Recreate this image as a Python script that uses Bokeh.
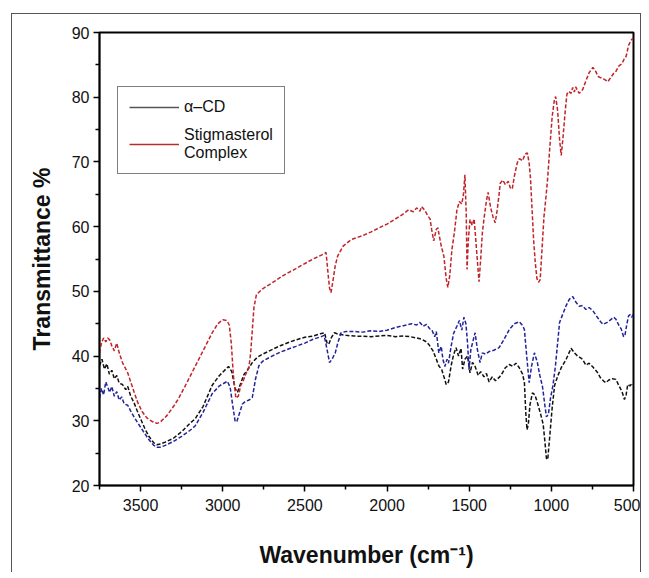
from bokeh.plotting import figure
from bokeh.models import Range1d, FixedTicker, Legend, LegendItem
from bokeh.embed import file_html
from bokeh.resources import INLINE

# ---- data ----
cd_w = [3750, 3735, 3720, 3705, 3690, 3675, 3660, 3645, 3630, 3610, 3590, 3578, 3560, 3540, 3520, 3500,
        3474, 3450, 3420, 3400, 3380, 3350, 3300, 3250, 3200, 3168, 3120, 3064, 3020, 2965, 2945, 2925,
        2910, 2895, 2870, 2850, 2820, 2790, 2757, 2700, 2650, 2600, 2555, 2500, 2450, 2400, 2380, 2365,
        2355, 2340, 2320, 2300, 2250, 2200, 2100, 2000, 1950, 1900, 1860, 1820, 1790, 1760, 1746, 1720,
        1700, 1685, 1667, 1650, 1640, 1626, 1610, 1595, 1580, 1565, 1550, 1540, 1526, 1510, 1495, 1480,
        1464, 1445, 1430, 1410, 1395, 1379, 1360, 1340, 1318, 1300, 1280, 1256, 1235, 1215, 1195, 1175,
        1164, 1155, 1148, 1140, 1130, 1115, 1100, 1085, 1065, 1050, 1040, 1030, 1022, 1010, 995, 980,
        960, 940, 910, 880, 860, 840, 810, 790, 770, 747, 720, 700, 680, 668, 650, 630, 607, 590, 570,
        555, 545, 535, 520, 510, 500]
cd_t = [38.5, 39.5, 38.0, 38.8, 37.2, 37.8, 36.5, 37.0, 35.8, 35.6, 34.8, 35.3, 33.8, 32.8, 31.5, 30.3,
        28.8, 27.6, 26.6, 26.3, 26.4, 26.7, 27.3, 28.3, 29.6, 30.3, 32.2, 35.5, 37.0, 38.4, 37.6, 35.0,
        34.4, 35.5, 37.2, 37.8, 39.0, 39.8, 40.3, 41.0, 41.6, 42.1, 42.5, 42.9, 43.1, 43.5, 43.6, 42.0,
        41.8, 42.8, 43.6, 43.4, 43.2, 43.1, 43.0, 43.2, 43.0, 43.1, 43.0, 42.8, 42.6, 42.2, 41.8, 40.8,
        39.5, 38.5, 37.9, 36.5, 35.6, 36.0, 38.5, 40.2, 41.3, 40.0, 41.2, 38.0, 39.5, 40.0, 37.4, 39.0,
        38.4, 37.0, 37.6, 36.8, 37.3, 36.0, 36.8, 36.2, 36.7, 37.3, 38.2, 38.7, 38.4, 38.9, 38.2, 37.2,
        35.9, 31.0, 28.6, 29.5, 32.5, 34.3, 34.0, 32.8, 31.0, 29.5, 27.0, 24.2, 24.0, 27.5, 32.0, 35.5,
        37.0, 38.2, 39.5, 41.2, 40.5, 40.0, 39.5, 38.6, 38.9, 38.3, 37.5, 36.6, 36.1, 35.9, 36.3, 36.5,
        36.4, 35.5, 34.5, 33.3, 34.0, 35.6, 35.4, 35.8, 35.6]

blue_w = [3750, 3738, 3725, 3712, 3700, 3688, 3675, 3660, 3645, 3630, 3615, 3600, 3578, 3560, 3540, 3520,
          3500, 3474, 3450, 3420, 3400, 3382, 3350, 3300, 3250, 3200, 3168, 3120, 3064, 3020, 2972, 2955,
          2940, 2925, 2915, 2900, 2880, 2862, 2840, 2820, 2800, 2780, 2757, 2700, 2650, 2600, 2555, 2500,
          2450, 2400, 2383, 2365, 2350, 2335, 2315, 2300, 2280, 2250, 2200, 2150, 2100, 2050, 2000, 1950,
          1900, 1850, 1820, 1800, 1780, 1760, 1740, 1728, 1710, 1700, 1685, 1670, 1660, 1648, 1635, 1626,
          1610, 1595, 1575, 1560, 1545, 1532, 1520, 1510, 1501, 1490, 1475, 1464, 1450, 1434, 1420, 1400,
          1379, 1350, 1318, 1290, 1256, 1225, 1195, 1175, 1164, 1150, 1135, 1120, 1103, 1085, 1070, 1054,
          1040, 1030, 1018, 1005, 990, 975, 960, 950, 930, 910, 890, 870, 850, 830, 810, 790, 770, 747,
          720, 700, 686, 660, 640, 620, 607, 590, 575, 560, 552, 540, 530, 520, 510, 500]
blue_t = [33.5, 35.0, 34.0, 36.0, 35.2, 34.4, 35.3, 33.8, 34.5, 33.2, 33.7, 32.6, 32.4, 31.5, 30.6, 29.8,
          29.0, 28.0, 27.1, 26.2, 25.9, 25.9, 26.2, 26.8, 27.6, 28.5, 29.2, 31.3, 34.2, 35.4, 36.1, 35.2,
          32.5, 30.0, 29.8, 31.0, 32.6, 33.0, 33.2, 33.6, 36.5, 38.5, 39.2, 40.0, 40.6, 41.1, 41.5, 42.0,
          42.6, 43.0, 43.2, 41.0, 39.0, 39.5, 40.5, 42.0, 43.6, 43.8, 43.8, 43.7, 43.9, 43.8, 44.0, 44.4,
          44.7, 45.0, 44.8, 45.2, 44.6, 44.9, 44.2, 44.1, 43.0, 43.8, 40.5, 41.5, 39.5, 38.4, 39.5, 38.9,
          41.5, 43.5, 44.6, 45.5, 44.0, 46.0, 45.0, 42.0, 37.9, 41.0, 42.5, 43.6, 41.0, 39.0, 40.5, 40.3,
          40.7, 40.9, 41.3, 42.5, 44.1, 45.0, 45.3, 44.7, 44.1, 40.0, 35.9, 38.5, 40.5, 39.0, 37.0, 35.3,
          32.5, 30.6, 31.0, 33.5, 35.5, 38.5, 42.5, 45.2, 46.5, 47.8, 48.8, 49.2, 48.3, 47.7, 47.8, 47.2,
          47.5, 47.0, 46.0, 45.3, 44.9, 45.2, 45.6, 46.0, 45.7, 44.8, 44.2, 43.0, 43.2, 45.0, 46.2, 46.4,
          46.0, 46.6]

stig_w = [3750, 3738, 3725, 3712, 3700, 3688, 3675, 3660, 3645, 3630, 3610, 3590, 3578, 3560, 3540, 3517,
          3490, 3460, 3430, 3400, 3380, 3340, 3300, 3272, 3220, 3168, 3120, 3064, 3030, 3000, 2975, 2960,
          2948, 2935, 2920, 2905, 2890, 2875, 2855, 2840, 2830, 2820, 2810, 2795, 2757, 2700, 2647, 2600,
          2555, 2500, 2450, 2400, 2371, 2360, 2350, 2341, 2330, 2315, 2300, 2267, 2218, 2150, 2096, 2050,
          2000, 1955, 1910, 1869, 1840, 1820, 1800, 1789, 1770, 1750, 1738, 1728, 1716, 1700, 1690, 1685,
          1670, 1654, 1640, 1630, 1618, 1605, 1590, 1575, 1560, 1545, 1535, 1526, 1518, 1513, 1505, 1495,
          1482, 1470, 1460, 1448, 1440, 1430, 1420, 1409, 1395, 1385, 1370, 1355, 1342, 1330, 1318, 1311,
          1295, 1280, 1262, 1250, 1238, 1225, 1207, 1195, 1175, 1160, 1146, 1135, 1127, 1118, 1108, 1098,
          1088, 1078, 1068, 1058, 1045, 1033, 1023, 1010, 995, 982, 974, 962, 950, 940, 930, 915, 905, 894,
          880, 870, 860, 852, 840, 830, 809, 790, 770, 747, 730, 715, 699, 680, 656, 640, 620, 607, 590,
          570, 555, 545, 530, 515, 500]
stig_t = [40.5, 42.0, 42.8, 42.2, 42.8, 42.5, 41.6, 40.8, 42.0, 40.5, 39.0, 38.0, 37.4, 36.0, 34.5, 32.8,
          31.4, 30.4, 29.9, 29.6, 29.8, 30.8, 32.2, 33.3, 35.8, 38.4, 40.8, 43.6, 45.0, 45.6, 45.5, 44.8,
          42.0, 37.0, 33.5, 33.8, 35.5, 36.2, 37.5, 38.4, 40.5, 44.0, 47.5, 49.5, 50.4, 51.3, 52.2, 52.9,
          53.5, 54.3, 55.0, 55.6, 56.0, 53.0, 50.5, 49.8, 51.5, 54.0, 55.5, 57.0, 58.0, 58.6, 59.2, 59.8,
          60.4, 61.1, 61.8, 62.6, 62.3, 62.9, 62.4, 63.1, 62.5, 61.6, 61.2, 59.5, 57.8, 59.6, 59.8, 59.0,
          57.0, 55.4, 52.0, 50.6, 52.5, 56.5, 59.1, 62.5, 63.9, 63.5, 65.0, 68.0, 62.0, 53.4, 58.0, 61.1,
          60.2, 61.2, 58.0, 54.0, 51.5, 55.0, 59.0, 61.4, 64.0, 65.3, 63.0, 61.5, 60.6, 62.5, 65.0, 66.7,
          67.2, 66.5, 67.0, 66.0, 65.8, 67.8, 69.9, 70.5, 70.2, 71.2, 71.4, 69.8, 67.5, 63.0, 58.0, 54.5,
          52.0, 51.4, 51.8, 56.0, 61.5, 64.5, 67.3, 72.0, 77.0, 79.5, 80.1, 78.0, 73.5, 71.0, 73.5, 78.0,
          80.5, 80.9, 80.6, 81.5, 80.8, 81.6, 81.0, 80.6, 81.2, 82.5, 83.8, 84.6, 84.0, 83.2, 83.0, 82.8,
          82.4, 83.0, 83.7, 84.0, 84.8, 85.2, 86.0, 86.3, 88.0, 88.8, 89.2]

x_ticks = [3500, 3000, 2500, 2000, 1500, 1000, 500]
x_minor = [3750, 3250, 2750, 2250, 1750, 1250, 750]
y_ticks = [20, 30, 40, 50, 60, 70, 80, 90]
y_minor = [25, 35, 45, 55, 65, 75, 85]

FONT = "Liberation Sans"
C_CD, C_BLUE, C_STIG = "#111111", "#23239a", "#c0242a"

p = figure(width=628, height=558, frame_width=534, frame_height=453,
           min_border_left=87, min_border_top=18, min_border_right=7, min_border_bottom=87,
           x_range=Range1d(3750, 500), y_range=Range1d(20, 90),
           output_backend="svg", toolbar_location=None, tools="")
p.styles = {"border-left": "1px solid #555555", "border-top": "1px solid #555555",
            "border-right": "1px solid #555555", "margin-left": "11px", "margin-top": "13px"}

p.grid.visible = False
p.outline_line_color = "black"
p.outline_line_width = 2

p.line(cd_w, cd_t, line_color=C_CD, line_width=1.5, line_dash="4 2")
p.line(blue_w, blue_t, line_color=C_BLUE, line_width=1.5, line_dash="4 2")
p.line(stig_w, stig_t, line_color=C_STIG, line_width=1.5, line_dash="4 2")

# solid swatches for the legend (a single point: a line of one point draws nothing)
leg_cd = p.line(cd_w[:1], cd_t[:1], line_color="#555555", line_width=1.5)
leg_stig = p.line(stig_w[:1], stig_t[:1], line_color="#b03030", line_width=1.5)

for ax in (p.xaxis[0], p.yaxis[0]):
    ax.axis_line_width = 1.5
    ax.axis_line_color = "black"
    ax.major_tick_line_width = 1.5
    ax.minor_tick_line_width = 1.5
    ax.major_tick_in = 0
    ax.major_tick_out = 6
    ax.minor_tick_in = 0
    ax.minor_tick_out = 4
    ax.major_label_text_font = FONT
    ax.major_label_text_font_size = "16px"
    ax.major_label_text_color = "#111111"
    ax.axis_label_text_font = FONT
    ax.axis_label_text_font_style = "bold"
    ax.axis_label_text_font_size = "23px"
    ax.axis_label_text_color = "#111111"

p.xaxis.ticker = FixedTicker(ticks=x_ticks, minor_ticks=x_minor)
p.yaxis.ticker = FixedTicker(ticks=y_ticks, minor_ticks=y_minor)
p.xaxis.axis_label = "Wavenumber (cm\u207b\u00b9)"
p.yaxis.axis_label = "Transmittance %"
p.xaxis.axis_label_standoff = 28
p.yaxis.axis_label_standoff = 14
p.xaxis.major_label_standoff = 7
p.yaxis.major_label_standoff = 4

legend = Legend(items=[LegendItem(label="\u03b1\u2013CD", renderers=[leg_cd]),
                       LegendItem(label="Stigmasterol\nComplex", renderers=[leg_stig])],
                location=(18, 311))
legend.label_text_font = FONT
legend.label_text_font_size = "16px"
legend.label_text_color = "#111111"
legend.label_text_line_height = 1.5
legend.glyph_width = 50
legend.glyph_height = 18
legend.border_line_color = "black"
legend.border_line_width = 1
legend.background_fill_alpha = 1
legend.padding = 11
legend.spacing = 10
legend.margin = 0
p.add_layout(legend)

open("out.html", "w").write(file_html(p, INLINE))
